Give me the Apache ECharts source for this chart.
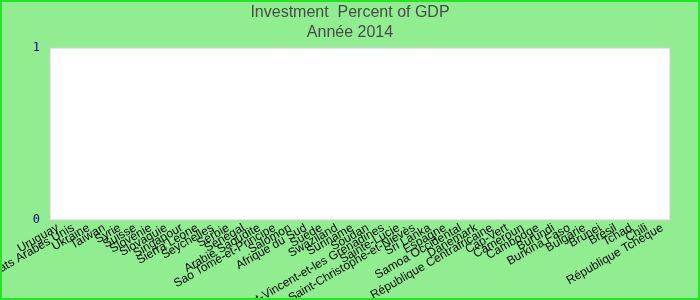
<!DOCTYPE html>
<html>
<head>
<meta charset="utf-8">
<script src="https://cdn.jsdelivr.net/npm/echarts@6/dist/echarts.min.js"></script>
<style>
html,body{margin:0;padding:0;}
#wrap{position:relative;width:700px;height:300px;background:#90ee90;}
#chart{position:absolute;left:0;top:0;width:700px;height:300px;}
#frame{position:absolute;left:0;top:0;width:700px;height:300px;box-sizing:border-box;border:2px solid #22e622;pointer-events:none;}
</style>
</head>
<body>
<div id="wrap"><div id="chart"></div><div id="frame"></div></div>
<script>
var categories = ["Uruguay","Émirats Arabes Unis","Ukraine","Taïwan","Syrie","Suisse","Slovénie","Slovaquie","Singapour","Sierra Leone","Seychelles","Serbie","Sénégal","Arabie Saoudite","Sao Tomé-et-Principe","Salomon","Afrique du Sud","Suède","Swaziland","Suriname","Soudan","Saint-Vincent-et-les Grenadines","Sainte-Lucie","Saint-Christophe-et-Niévès","Sri Lanka","Espagne","Samoa Occidental","Danemark","République Centrafricaine","Cap-Vert","Cameroun","Cambodge","Burundi","Burkina Faso","Bulgarie","Brunei","Brésil","Tchad","Chili","République Tchèque"];
var values = [null,null,null,null,null,null,null,null,null,null,null,null,null,null,null,null,null,null,null,null,null,null,null,null,null,null,null,null,null,null,null,null,null,null,null,null,null,null,null,null];
var yTicks = [0, 1];

var chart = echarts.init(document.getElementById('chart'), null, {renderer:'canvas'});
chart.setOption({
  backgroundColor: 'transparent',
  animation: false,
  title: {
    text: 'Investment  Percent of GDP\nAnnée 2014',
    left: 'center',
    top: 3,
    padding: 0,
    textStyle: {fontFamily: 'Liberation Sans, Arial', fontSize: 16, fontWeight: 'normal', color: '#4a4a4a', lineHeight: 20}
  },
  grid: {left: 50, right: 30, top: 48, bottom: 80, show: true, backgroundColor: '#ffffff', borderColor: '#cccccc', borderWidth: 1, outerBoundsMode: 'none', containLabel: false},
  xAxis: {
    type: 'category',
    data: categories,
    axisLine: {show: false},
    axisTick: {show: false},
    axisLabel: {interval: 0, rotate: 30, fontFamily: 'Liberation Sans, Arial', fontSize: 12, color: '#000', margin: 7, hideOverlap: false}
  },
  yAxis: {
    type: 'value',
    min: yTicks[0],
    max: yTicks[yTicks.length - 1],
    interval: 1,
    splitLine: {show: false},
    axisLine: {show: false},
    axisTick: {show: false},
    axisLabel: {fontFamily: 'DejaVu Sans Mono, monospace', fontSize: 12, color: '#00008b', margin: 10}
  },
  series: [{type: 'bar', data: values, itemStyle: {color: '#4472c4'}}]
});
</script>
</body>
</html>
